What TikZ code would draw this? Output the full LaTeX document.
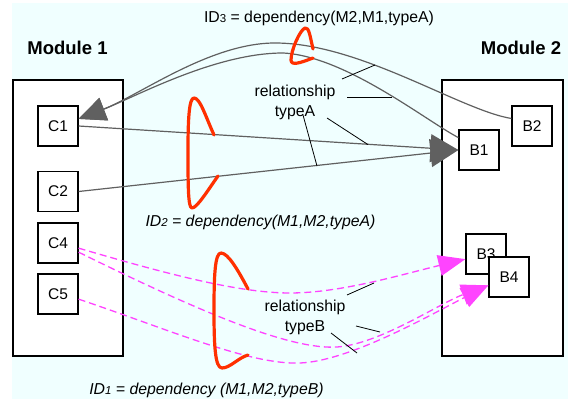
\documentclass[tikz,border=0pt]{standalone}
\usepackage{fontspec}
\setmainfont{Liberation Sans}
\usetikzlibrary{arrows.meta}
\definecolor{bgc}{RGB}{240,255,255}
\definecolor{lgray}{RGB}{96,96,96}
\definecolor{mred}{RGB}{255,48,0}
\definecolor{mag}{RGB}{255,68,255}
\newcommand\idsub[1]{{\fontsize{11.5}{12}\selectfont #1}}
\begin{document}
\begin{tikzpicture}[x=1pt,y=-1pt,
  box/.style={draw=black,fill=white,line width=1.2pt,minimum width=40pt,minimum height=40pt,inner sep=0pt,font=\fontsize{15.5}{18}\selectfont},
  module/.style={draw=black,fill=white,line width=1.2pt,inner sep=0pt},
  lbl/.style={inner sep=0pt,font=\fontsize{15.8}{20}\selectfont},
  ilbl/.style={inner sep=0pt,font=\fontsize{15.8}{20}\selectfont\itshape},
  modlbl/.style={inner sep=0pt,font=\fontsize{18.5}{22}\selectfont\bfseries},
  glink/.style={draw=lgray,line width=1.2pt},
  gbig/.style={glink,-{Triangle[length=28pt,width=28pt]}},
  gsmall/.style={glink,-{Triangle[length=27pt,width=24pt]}},
  mlink/.style={draw=mag,line width=1.3pt,dash pattern=on 7pt off 4pt,-{Triangle[length=27pt,width=21pt]}},
  idmark/.style={draw=mred,line width=3.2pt,line cap=round,line join=round},
  leader/.style={draw=black,line width=0.8pt}
]
\useasboundingbox (0,0) rectangle (568,401);
\fill[white] (0,0) rectangle (568,401);
\fill[bgc] (12,3) rectangle (568,399);

% modules
\node[module,minimum width=110pt,minimum height=276pt] (M1) at (68,218) {};
\node[module,minimum width=121pt,minimum height=276pt] (M2) at (502.5,218) {};
\node[modlbl,anchor=base] (M1l) at (67.5,55) {Module 1};
\node[modlbl,anchor=base] (M2l) at (521,55) {Module 2};

% component boxes
\node[box] (C1) at (58,126) {C1};
\node[box] (C2) at (58,191.5) {C2};
\node[box] (C4) at (58,243) {C4};
\node[box] (C5) at (58,294) {C5};
\node[box] (B1) at (479,150) {B1};
\node[box] (B2) at (532,126) {B2};
\node[box] (B3) at (486,254) {B3};
\node[box] (B4) at (509,277) {B4};

% typeA links M1 -> M2
\draw[gbig] (C2.east) -- (B1.west);
\draw[gbig] (C1.east) -- (B1.west);

% typeA links M2 -> M1
\draw[gsmall] (B2.160) .. controls (460,110) and (360,43) .. (275,43)
  .. controls (210,43) and (140,95) .. (C1.19);
\draw[gsmall] (B1.149) .. controls (425,120) and (345,56) .. (283,53)
  .. controls (215,53) and (135,97) .. (C1.19);

% typeB links
\draw[mlink] (C4.-14) .. controls (170,275) and (240,293) .. (290,293)
  .. controls (340,293) and (400,275) .. (B3.194);
\draw[mlink] (C4.-24) .. controls (200,312) and (290,350) .. (337,347)
  .. controls (380,344) and (440,303) .. (B4.202);
\draw[mlink] (C5.-14) .. controls (170,330) and (250,365) .. (300,363)
  .. controls (350,361) and (430,315) .. (B4.202);

% red dependency marks
\draw[idmark] (313,49) .. controls (310,36) and (309,27) .. (305,28)
  .. controls (300,30) and (291,50) .. (291,60)
  .. controls (291,66) and (300,63) .. (313,58);
\draw[idmark] (214,135) .. controls (205,115) and (200,98) .. (194,98)
  .. controls (189,98) and (188,120) .. (188,150)
  .. controls (188,185) and (188,208) .. (192,208)
  .. controls (197,208) and (208,190) .. (218,176);
\draw[idmark] (248,289) .. controls (238,270) and (228,253) .. (221,253)
  .. controls (215,253) and (214,275) .. (214,310)
  .. controls (214,345) and (215,368) .. (222,368)
  .. controls (230,368) and (238,358) .. (248,355);

% labels
\node[lbl,anchor=base] (id3) at (319,22.7) {ID\idsub{3} = dependency(M2,M1,typeA)};
\node[ilbl,anchor=base] (id2) at (260.5,226) {ID\idsub{2} = dependency(M1,M2,typeA)};
\node[ilbl,anchor=base] (id1) at (206.5,394) {ID\idsub{1} = dependency (M1,M2,typeB)};
\node[lbl,align=center,anchor=base] (relA) at (295,116.7) {relationship\\typeA};
\node[lbl,align=center,anchor=base] (relB) at (305,331) {relationship\\typeB};

% leader lines
\coordinate (a1s) at (342,79);  \coordinate (a1e) at (375,65);
\coordinate (a2s) at (347,97);  \coordinate (a2e) at (392,97);
\coordinate (a3s) at (327,118); \coordinate (a3e) at (368,144.6);
\coordinate (a4s) at (303,115); \coordinate (a4e) at (317,166);
\coordinate (b1s) at (347,295); \coordinate (b1e) at (374,283);
\coordinate (b2s) at (356,326); \coordinate (b2e) at (380,332);
\coordinate (b3s) at (331,333); \coordinate (b3e) at (357,353);
\draw[leader] (a1s) -- (a1e);
\draw[leader] (a2s) -- (a2e);
\draw[leader] (a3s) -- (a3e);
\draw[leader] (a4s) -- (a4e);
\draw[leader] (b1s) -- (b1e);
\draw[leader] (b2s) -- (b2e);
\draw[leader] (b3s) -- (b3e);
\end{tikzpicture}
\end{document}
